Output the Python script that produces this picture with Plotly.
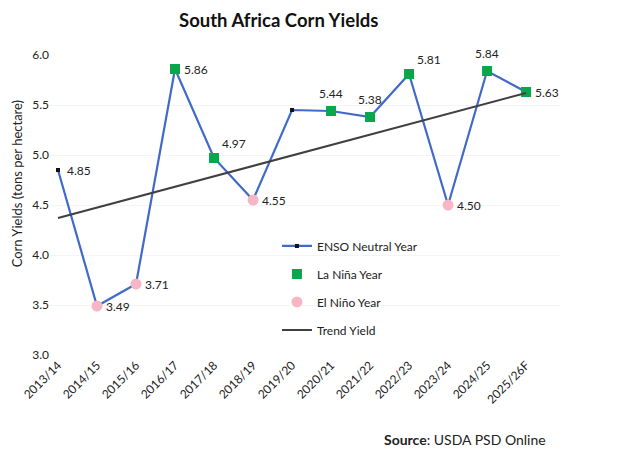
import plotly.graph_objects as go

# Marketing years and yields (tons per hectare)
years = ["2013/14", "2014/15", "2015/16", "2016/17", "2017/18", "2018/19", "2019/20",
         "2020/21", "2021/22", "2022/23", "2023/24", "2024/25", "2025/26F"]
yields = [4.85, 3.49, 3.71, 5.86, 4.97, 4.55, 5.45, 5.44, 5.38, 5.81, 4.50, 5.84, 5.63]
enso = ["N", "E", "E", "L", "L", "E", "N", "L", "L", "L", "E", "L", "L"]
labels = ["4.85", "3.49", "3.71", "5.86", "4.97", "4.55", "", "5.44", "5.38", "5.81", "4.50", "5.84", "5.63"]
trend_years = ["2013/14", "2025/26F"]
trend_vals = [4.37, 5.62]

# where each data label sits relative to its point: r = right, t = top, tr = top right
label_pos = ["r", "r", "r", "r", "tr", "r", "r", "t", "t", "tr", "r", "t", "r"]

FONT = "Lato, Open Sans, sans-serif"
BLUE = "#4169c8"

fig = go.Figure()

fig.add_trace(go.Scatter(
    x=years, y=yields, mode="lines",
    line=dict(color=BLUE, width=2.2),
    showlegend=False,
))


def pick(code):
    return [v if c == code else None for v, c in zip(yields, enso)]


fig.add_trace(go.Scatter(
    x=years, y=pick("N"), mode="lines+markers", name="ENSO Neutral Year",
    line=dict(color=BLUE, width=2.2), connectgaps=False,
    marker=dict(symbol="square", size=4, color="#111"),
    legendgroup="a",
))
fig.add_trace(go.Scatter(
    x=years, y=pick("L"), mode="markers", name="La Niña Year",
    marker=dict(symbol="square", size=10, color="#0aa64c"),
    legendgroup="b", cliponaxis=False,
))
fig.add_trace(go.Scatter(
    x=years, y=pick("E"), mode="markers", name="El Niño Year",
    marker=dict(symbol="circle", size=11, color="#f7b6c6"),
    legendgroup="c",
))
fig.add_trace(go.Scatter(
    x=trend_years, y=trend_vals, mode="lines", name="Trend Yield",
    line=dict(color="#404040", width=2),
    legendgroup="d",
))

annotations = []
for yr, v, txt, pos in zip(years, yields, labels, label_pos):
    if not txt:
        continue
    if pos == "r":
        a = dict(xanchor="left", yanchor="middle", xshift=7, yshift=0)
    elif pos == "t":
        a = dict(xanchor="center", yanchor="bottom", xshift=0, yshift=8)
    else:
        a = dict(xanchor="left", yanchor="bottom", xshift=6, yshift=5)
    annotations.append(dict(x=yr, y=v, xref="x", yref="y", text=txt, showarrow=False,
                            font=dict(size=12, color="#222"), **a))

annotations.append(dict(text="Corn Yields (tons per hectare)", xref="paper", yref="paper",
                        x=-0.064, y=0.57, xanchor="center", yanchor="middle",
                        textangle=-90, showarrow=False,
                        font=dict(size=13, color="#222")))
annotations.append(dict(text="<b>Source</b>: USDA PSD Online", xref="paper", yref="paper",
                        x=0.976, y=-0.283, xanchor="right",
                        yanchor="middle", showarrow=False,
                        font=dict(size=14, color="#222")))

fig.update_layout(
    width=637, height=451,
    margin=dict(l=42, r=85, t=47, b=104, autoexpand=False),
    paper_bgcolor="white", plot_bgcolor="white",
    font=dict(family=FONT, size=12, color="#222"),
    title=dict(text="<b>South Africa Corn Yields</b>", x=0.425, xanchor="center",
               y=0.973, yanchor="middle", font=dict(size=18.5, color="#111")),
    xaxis=dict(range=[-0.205, 12.87], tickangle=-45, showgrid=False, showline=False,
               tickfont=dict(size=12), ticks="", automargin=False),
    yaxis=dict(range=[3.0, 6.0], dtick=0.5, tickformat=".1f", showgrid=True,
               gridcolor="#f4f4f4", zeroline=False, showline=False,
               tickfont=dict(size=12), ticks="", automargin=False),
    legend=dict(x=0.445, y=0.412, xanchor="left", yanchor="top",
                font=dict(size=12), tracegroupgap=9, bgcolor="rgba(0,0,0,0)",
                itemwidth=30),
    annotations=annotations,
)

fig.write_html("out.html")
